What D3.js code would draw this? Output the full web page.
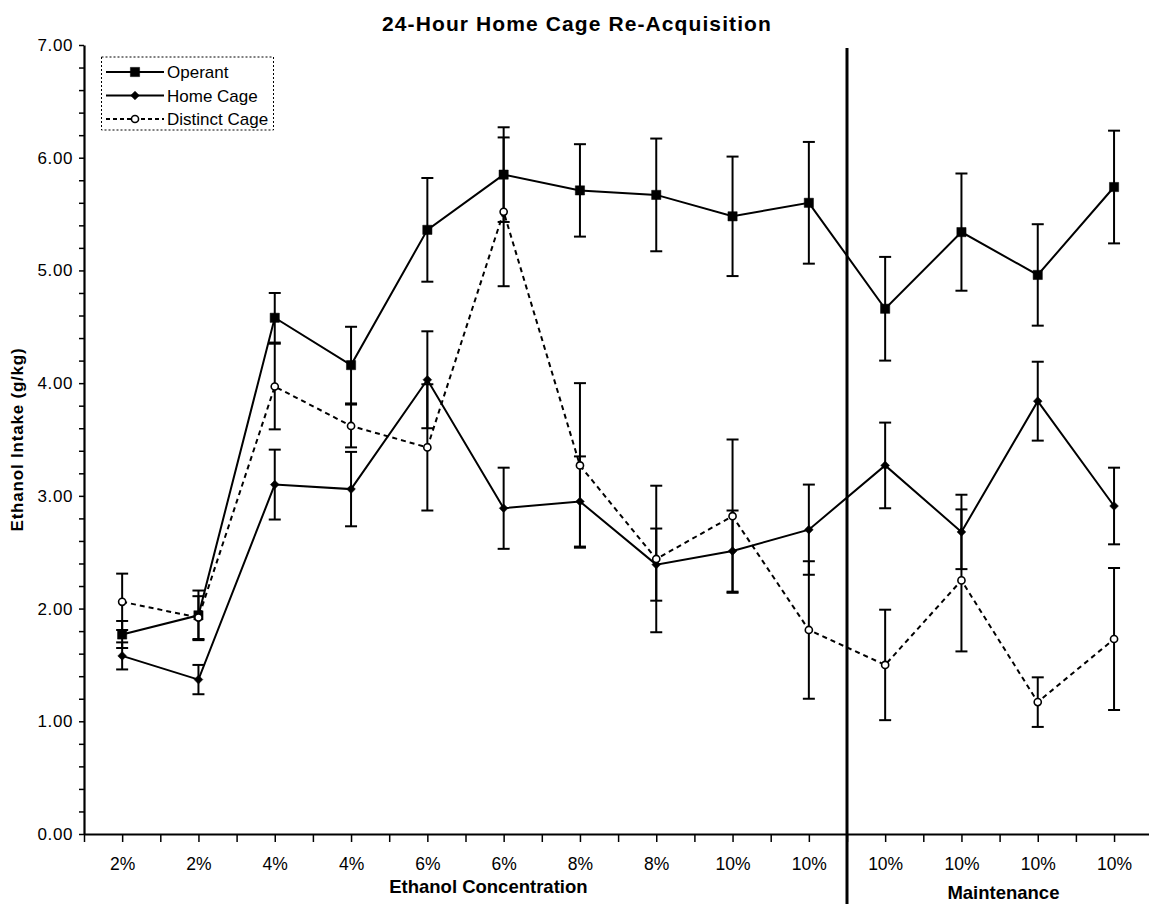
<!DOCTYPE html>
<html>
<head>
<meta charset="utf-8">
<script src="https://cdn.jsdelivr.net/npm/d3@7"></script>
<style>
  html, body { margin: 0; padding: 0; background: #fff; }
  svg { display: block; font-family: "Liberation Sans", Arial, sans-serif; }
</style>
</head>
<body>
<svg id="chart" width="1149" height="904"></svg>
<script>
// Session labels along the x axis
const categories = ["2%", "2%", "4%", "4%", "6%", "6%", "8%", "8%", "10%", "10%", "10%", "10%", "10%", "10%"];

// Mean ethanol intake (g/kg) per session and its error (±)
const operant      = [1.77, 1.94, 4.58, 4.16, 5.36, 5.85, 5.71, 5.67, 5.48, 5.60, 4.66, 5.34, 4.96, 5.74];
const operantErr   = [0.12, 0.22, 0.22, 0.34, 0.46, 0.42, 0.41, 0.50, 0.53, 0.54, 0.46, 0.52, 0.45, 0.50];
const homeCage     = [1.58, 1.37, 3.10, 3.06, 4.03, 2.89, 2.95, 2.39, 2.51, 2.70, 3.27, 2.68, 3.84, 2.91];
const homeCageErr  = [0.12, 0.13, 0.31, 0.33, 0.43, 0.36, 0.40, 0.32, 0.36, 0.40, 0.38, 0.33, 0.35, 0.34];
const distinct     = [2.06, 1.92, 3.97, 3.62, 3.43, 5.52, 3.27, 2.44, 2.82, 1.81, 1.50, 2.25, 1.17, 1.73];
const distinctErr  = [0.25, 0.19, 0.38, 0.19, 0.56, 0.66, 0.73, 0.65, 0.68, 0.61, 0.49, 0.63, 0.22, 0.63];

const yTicks = [0, 1, 2, 3, 4, 5, 6, 7];
const seriesNames = ["Operant", "Home Cage", "Distinct Cage"];

const svg = d3.select("#chart");
const plotLeft = 84, plotTop = 45, plotBottom = 834, band = 76.3;

const x = d3.scaleLinear().domain([0, categories.length]).range([plotLeft, plotLeft + band * categories.length]);
const y = d3.scaleLinear().domain([0, 7]).range([plotBottom, plotTop]);

// Title
svg.append("text").attr("x", 577).attr("y", 31).attr("text-anchor", "middle")
  .attr("font-size", 21).attr("letter-spacing", 1.1).attr("font-weight", "bold")
  .text("24-Hour Home Cage Re-Acquisition");

// Y axis: ticks every 0.2, labels on whole numbers
const yAxis = d3.axisLeft(y)
  .tickValues(d3.range(0, 7.001, 0.2))
  .tickSize(5)
  .tickSizeOuter(0)
  .tickFormat(d => yTicks.some(t => Math.abs(d - t) < 1e-6) ? d3.format(".2f")(d) : "");
const gy = svg.append("g").attr("transform", `translate(${plotLeft},0)`).call(yAxis);
gy.select(".domain").attr("stroke-width", 2.2);
gy.selectAll(".tick line").attr("stroke-width", 1.5);
gy.selectAll(".tick text").attr("font-size", 17).attr("letter-spacing", 0.6)
  .attr("font-family", "Liberation Sans, Arial, sans-serif").attr("fill", "#000").attr("x", -11);

// X axis: ticks at band edges and centres
const xAxis = d3.axisBottom(x)
  .tickValues(d3.range(0, categories.length + 0.01, 0.5))
  .tickSize(8)
  .tickSizeOuter(0)
  .tickFormat(d => (d % 1 === 0.5) ? categories[Math.floor(d)] : "");
const gx = svg.append("g").attr("transform", `translate(0,${plotBottom})`).call(xAxis);
gx.select(".domain").attr("stroke-width", 2.2);
gx.selectAll(".tick line").attr("stroke-width", 1.5);
gx.selectAll(".tick text").attr("font-size", 17.5)
  .attr("font-family", "Liberation Sans, Arial, sans-serif").attr("fill", "#000").attr("dy", "1.45em");

// Axis titles
svg.append("text").attr("transform", `translate(23,${(plotTop + plotBottom) / 2}) rotate(-90)`)
  .attr("text-anchor", "middle").attr("font-size", 17).attr("letter-spacing", 0.8)
  .attr("font-weight", "bold").text("Ethanol Intake (g/kg)");
svg.append("text").attr("x", x(5.3)).attr("y", 893).attr("text-anchor", "middle")
  .attr("font-size", 18.5).attr("font-weight", "bold").text("Ethanol Concentration");
svg.append("text").attr("x", x(12.05)).attr("y", 899).attr("text-anchor", "middle")
  .attr("font-size", 18.5).attr("font-weight", "bold").text("Maintenance");

// Divider between acquisition and maintenance
svg.append("line").attr("x1", x(10)).attr("x2", x(10)).attr("y1", plotTop + 3).attr("y2", 904)
  .attr("stroke", "#000").attr("stroke-width", 3);

const cx = i => x(i + 0.5);

function drawErrors(vals, errs) {
  const g = svg.append("g").attr("stroke", "#000").attr("stroke-width", 2);
  vals.forEach((v, i) => {
    const hi = y(v + errs[i]), lo = y(v - errs[i]);
    g.append("line").attr("x1", cx(i)).attr("x2", cx(i)).attr("y1", hi).attr("y2", lo);
    g.append("line").attr("x1", cx(i) - 6).attr("x2", cx(i) + 6).attr("y1", hi).attr("y2", hi);
    g.append("line").attr("x1", cx(i) - 6).attr("x2", cx(i) + 6).attr("y1", lo).attr("y2", lo);
  });
}

const line = d3.line().x((d, i) => cx(i)).y(d => y(d));

function drawSeries(vals, dashed) {
  svg.append("path").datum(vals).attr("d", line).attr("fill", "none")
    .attr("stroke", "#000").attr("stroke-width", 2)
    .attr("stroke-dasharray", dashed ? "5,4" : null);
}

const sym = {
  square: { path: d3.symbol().type(d3.symbolSquare).size(85)(), rot: 0 },
  diamond: { path: d3.symbol().type(d3.symbolSquare).size(38)(), rot: 45 },
  circle: { path: d3.symbol().type(d3.symbolCircle).size(40)(), rot: 0 }
};

function markerAttrs(sel, kind) {
  sel.attr("d", sym[kind].path)
    .attr("fill", kind === "circle" ? "#fff" : "#000")
    .attr("stroke", "#000").attr("stroke-width", kind === "circle" ? 1.6 : 0.5);
}

function drawMarkers(vals, kind) {
  svg.append("g").selectAll("path").data(vals).join("path")
    .attr("transform", (d, i) => `translate(${cx(i)},${y(d)}) rotate(${sym[kind].rot})`)
    .call(markerAttrs, kind);
}

drawErrors(distinct, distinctErr);
drawErrors(homeCage, homeCageErr);
drawErrors(operant, operantErr);
drawSeries(distinct, true);
drawSeries(homeCage, false);
drawSeries(operant, false);
drawMarkers(homeCage, "diamond");
drawMarkers(operant, "square");
drawMarkers(distinct, "circle");

// Legend
const lg = svg.append("g");
lg.append("rect").attr("x", 101.5).attr("y", 57).attr("width", 172).attr("height", 73)
  .attr("fill", "#fff").attr("stroke", "#000").attr("stroke-width", 1).attr("stroke-dasharray", "2,2");
const kinds = ["square", "diamond", "circle"];
seriesNames.forEach((name, k) => {
  const ly = 72 + k * 23.5;
  lg.append("line").attr("x1", 106).attr("x2", 164).attr("y1", ly).attr("y2", ly)
    .attr("stroke", "#000").attr("stroke-width", 2).attr("stroke-dasharray", k === 2 ? "4,3" : null);
  lg.append("path").attr("transform", `translate(135,${ly}) rotate(${sym[kinds[k]].rot})`)
    .call(markerAttrs, kinds[k]);
  lg.append("text").attr("x", 167).attr("y", ly + 6).attr("font-size", 17).text(name);
});
</script>
</body>
</html>
